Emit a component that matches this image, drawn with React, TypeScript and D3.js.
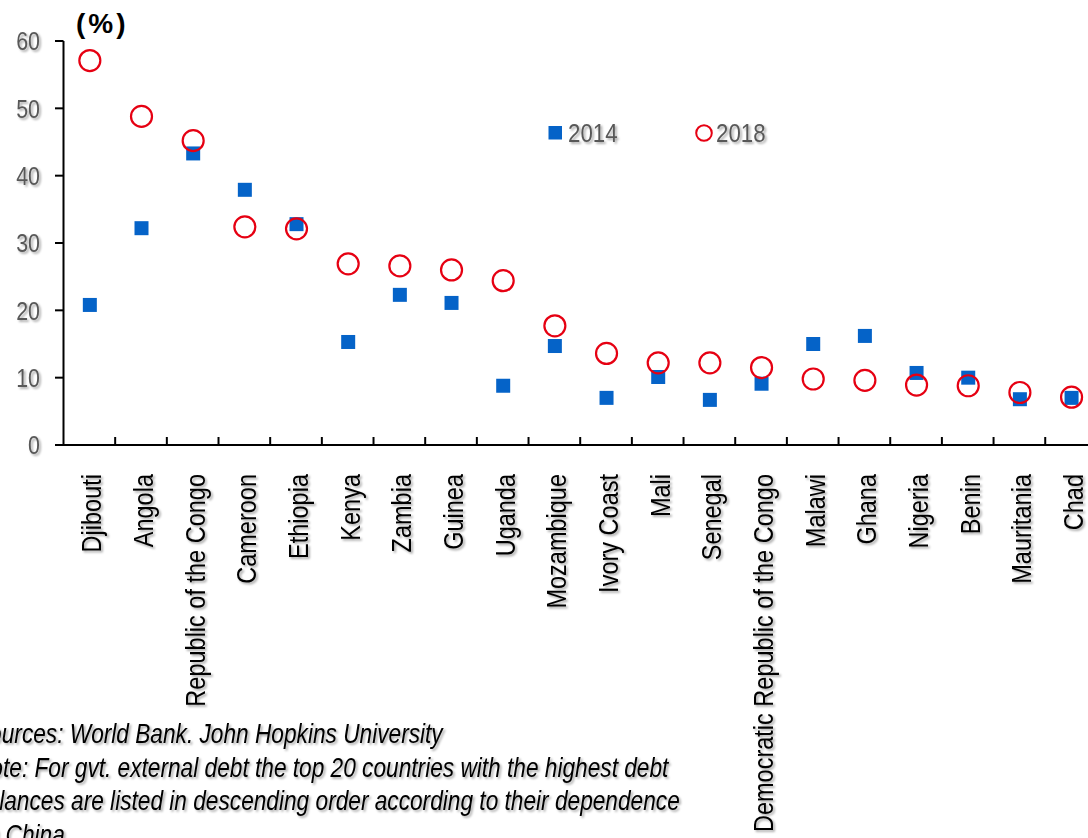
import React from "react";
import * as d3 from "d3";

const countries = [
  "Djibouti", "Angola", "Republic of the Congo", "Cameroon", "Ethiopia",
  "Kenya", "Zambia", "Guinea", "Uganda", "Mozambique",
  "Ivory Coast", "Mali", "Senegal", "Democratic Republic of the Congo", "Malawi",
  "Ghana", "Nigeria", "Benin", "Mauritania", "Chad",
];
const values2014 = [20.8, 32.2, 43.3, 37.9, 32.8, 15.3, 22.3, 21.1, 8.8, 14.7, 7.0, 10.1, 6.7, 9.1, 15.0, 16.2, 10.7, 10.0, 6.8, 7.0];
const values2018 = [57.1, 48.8, 45.2, 32.4, 32.1, 26.9, 26.6, 26.0, 24.4, 17.7, 13.6, 12.2, 12.2, 11.5, 9.8, 9.6, 8.9, 8.8, 7.8, 7.1];
const yTicks = [0, 10, 20, 30, 40, 50, 60];
const seriesNames = ["2014", "2018"];
const unitLabel = "(%)";
const notes = [
  "Sources: World Bank. John Hopkins University",
  "Note: For gvt. external debt the top 20 countries with the highest debt",
  "balances are listed in descending order according to their dependence",
  "on China",
];

const W = 1088;
const H = 838;
const BLUE = "#0563C8";
const RED = "#E60012";
const FONT = "'Liberation Sans', Arial, sans-serif";
const SX = 0.84;

type NProps = {
  x: number;
  y: number;
  rotate?: number;
  size: number;
  anchor?: "start" | "end" | "middle";
  fill?: string;
  italic?: boolean;
  dy?: string;
  children: React.ReactNode;
};

function NText({ x, y, rotate = 0, size, anchor = "start", fill = "#000", italic, dy, children }: NProps) {
  return (
    <g filter="url(#sh)">
      <text
        transform={`translate(${x},${y}) rotate(${rotate}) scale(${SX},1)`}
        textAnchor={anchor}
        dy={dy}
        fontFamily={FONT}
        fontSize={size}
        fontStyle={italic ? "italic" : "normal"}
        fill={fill}
      >
        {children}
      </text>
    </g>
  );
}

export default function App() {
  const x0 = 63.5;
  const step = 51.67;
  const x = d3.scaleBand<string>().domain(countries).range([x0, x0 + step * countries.length]).padding(0);
  const y = d3.scaleLinear().domain([0, 60]).range([445, 41]);
  const bw = x.bandwidth();
  const sq = 14;
  const r = 10.5;

  return (
    <svg width={W} height={H} style={{ position: "absolute", left: 0, top: 0, background: "#fff" }}>
      <defs>
        <filter id="sh" x="-10%" y="-30%" width="130%" height="160%">
          <feDropShadow dx="1.8" dy="1.8" stdDeviation="1.1" floodColor="#000" floodOpacity="0.35" />
        </filter>
      </defs>
      <rect x={0} y={0} width={W} height={H} fill="#fff" />

      {/* Axes */}
      <line x1={x0} x2={x0} y1={y(60)} y2={y(0)} stroke="#000" strokeWidth={2} />
      <line x1={55} x2={W} y1={y(0)} y2={y(0)} stroke="#000" strokeWidth={2} />
      {yTicks.map((t) => (
        <g key={t}>
          <line x1={55} x2={x0} y1={y(t)} y2={y(t)} stroke="#000" strokeWidth={2} />
          <NText x={40} y={y(t)} dy="0.36em" anchor="end" size={25.5} fill="#595959">
            {t}
          </NText>
        </g>
      ))}
      {countries.map((c, i) =>
        i === 0 ? null : (
          <line key={"t" + c} x1={x(c)!} x2={x(c)!} y1={y(0)} y2={y(0) - 8} stroke="#000" strokeWidth={2} />
        )
      )}

      {/* X labels */}
      {countries.map((c) => (
        <NText key={"l" + c} x={x(c)! + bw / 2 + 2} y={474} rotate={-90} dy="0.36em" anchor="end" size={28}>
          {c}
        </NText>
      ))}

      {/* Unit label */}
      <text x={76} y={33} fontFamily={FONT} fontWeight="bold" fontSize={28} letterSpacing={3} fill="#000">
        {unitLabel}
      </text>

      {/* 2014 squares */}
      {countries.map((c, i) => (
        <rect
          key={"s" + c}
          x={x(c)! + bw / 2 - sq / 2 + 0.5}
          y={y(values2014[i]) - sq / 2}
          width={sq}
          height={sq}
          fill={BLUE}
        />
      ))}
      {/* 2018 circles */}
      {countries.map((c, i) => (
        <circle
          key={"c" + c}
          cx={x(c)! + bw / 2 + 0.5}
          cy={y(values2018[i])}
          r={r}
          fill="none"
          stroke={RED}
          strokeWidth={2.2}
        />
      ))}

      {/* Legend */}
      <rect x={548.5} y={126} width={13.5} height={13.5} fill={BLUE} />
      <NText x={568} y={142} size={26.5} fill="#595959">
        {seriesNames[0]}
      </NText>
      <circle cx={704} cy={133} r={7.8} fill="none" stroke={RED} strokeWidth={2} />
      <NText x={716} y={142} size={26.5} fill="#595959">
        {seriesNames[1]}
      </NText>

      {/* Notes */}
      {notes.map((n, i) => (
        <NText key={"n" + i} x={-26} y={743 + i * 33.5} size={27} italic>
          {n}
        </NText>
      ))}
    </svg>
  );
}
